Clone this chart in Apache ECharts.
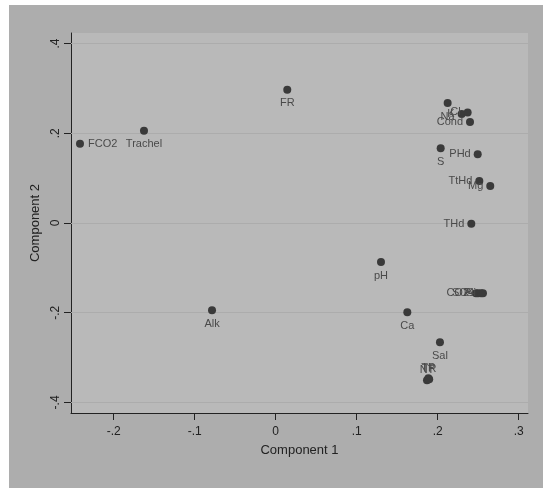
<!DOCTYPE html>
<html>
<head>
<meta charset="utf-8">
<script src="https://cdn.jsdelivr.net/npm/echarts@6/dist/echarts.min.js"></script>
<style>
  html, body { margin: 0; padding: 0; background: #ffffff; }
  #chart { width: 543px; height: 488px; }
</style>
</head>
<body>
<div id="chart"></div>
<script>
// Loadings on the first two principal components
const names = ['FCO2', 'Trachel', 'FR', 'Alk', 'pH', 'Ca', 'Sal', 'NT', 'TP', 'TR',
               'Na', 'K', 'Cl', 'Cond', 'S', 'PHd', 'TtHd', 'Mg', 'THd',
               'CO2', 'P', 'SO4', 'Si'];
const comp1 = [-0.2416, -0.1626, 0.0143, -0.0786, 0.1300, 0.1625, 0.2028, 0.1868, 0.1885, 0.1895,
               0.2123, 0.2296, 0.2370, 0.2399, 0.2037, 0.2494, 0.2514, 0.2649, 0.2415,
               0.2473, 0.2498, 0.2535, 0.2559];
const comp2 = [0.1765, 0.2056, 0.2972, -0.1944, -0.0872, -0.1989, -0.2660, -0.3508, -0.3464, -0.3486,
               0.2675, 0.2429, 0.2465, 0.2250, 0.1669, 0.1535, 0.0939, 0.0827, -0.0016,
               -0.1564, -0.1564, -0.1564, -0.1564];

// Tick values and their printed labels
const xTicks = [-0.2, -0.1, 0, 0.1, 0.2, 0.3];
const xTickLabels = ['-.2', '-.1', '0', '.1', '.2', '.3'];
const yTicks = [-0.4, -0.2, 0, 0.2, 0.4];
const yTickLabels = ['-.4', '-.2', '0', '.2', '.4'];

// Where each marker label sits relative to its point (default: below)
const labelSide = {
  FCO2: 'right', PHd: 'left', TtHd: 'left', Mg: 'left', THd: 'left',
  K: 'left', Cl: 'left', Cond: 'left',
  CO2: 'left', P: 'left', SO4: 'left', Si: 'left',
  NT: 'top', TP: 'top', TR: 'top'
};

function tickText(ticks, labels) {
  return function (v) {
    for (let i = 0; i < ticks.length; i++) {
      if (Math.abs(ticks[i] - v) < 1e-9) return labels[i];
    }
    return '';
  };
}

const points = names.map(function (n, i) {
  const side = labelSide[n] || 'bottom';
  return {
    name: n,
    value: [comp1[i], comp2[i]],
    label: { position: side, distance: side === 'top' ? 1 : (side === 'left' ? 3 : 4) }
  };
});

const chart = echarts.init(document.getElementById('chart'), null, { renderer: 'canvas' });

chart.setOption({
  backgroundColor: '#ffffff',
  animation: false,
  textStyle: { fontFamily: 'Liberation Sans, Arial, sans-serif' },
  graphic: [{
    type: 'rect',
    z: -10,
    silent: true,
    shape: { x: 9, y: 5, width: 534, height: 483 },
    style: { fill: '#adadad' }
  }],
  grid: {
    left: 71, right: 15, top: 33, bottom: 75,
    show: true,
    backgroundColor: '#b9b9b9',
    borderWidth: 0
  },
  xAxis: {
    type: 'value',
    min: -0.2527, max: 0.3115,
    name: 'Component 1',
    nameLocation: 'middle',
    nameGap: 31,
    nameTextStyle: { color: '#222222', fontSize: 13, fontFamily: 'Liberation Sans' },
    axisLine: { show: true, onZero: false, lineStyle: { color: '#222222', width: 1 } },
    axisTick: { show: true, length: 7, lineStyle: { color: '#222222' }, customValues: xTicks },
    axisLabel: {
      color: '#222222', fontSize: 12, margin: 13,
      customValues: xTicks,
      formatter: tickText(xTicks, xTickLabels)
    },
    splitLine: { show: false }
  },
  yAxis: {
    type: 'value',
    min: -0.4236, max: 0.4236,
    name: 'Component 2',
    nameLocation: 'middle',
    nameGap: 26,
    nameRotate: 90,
    nameTextStyle: { color: '#222222', fontSize: 13, fontFamily: 'Liberation Sans' },
    axisLine: { show: true, onZero: false, lineStyle: { color: '#222222', width: 1 } },
    axisTick: { show: true, length: 7, lineStyle: { color: '#222222' }, customValues: yTicks },
    axisLabel: {
      color: '#222222', fontSize: 12, margin: 9, rotate: 90,
      customValues: yTicks,
      formatter: tickText(yTicks, yTickLabels)
    },
    splitLine: { show: false }
  },
  series: [{
    type: 'scatter',
    symbol: 'circle',
    symbolSize: 8,
    itemStyle: { color: '#3a3a3a', opacity: 1 },
    label: {
      show: true,
      formatter: '{b}',
      color: '#4a4a4a',
      fontSize: 11,
      fontFamily: 'Liberation Sans'
    },
    labelLayout: { hideOverlap: false },
    data: points,
    markLine: {
      silent: true,
      symbol: 'none',
      z: 1,
      label: { show: false },
      lineStyle: { color: '#acacac', width: 1, type: 'solid' },
      data: yTicks.map(function (v) { return { yAxis: v }; })
    }
  }]
});
</script>
</body>
</html>
